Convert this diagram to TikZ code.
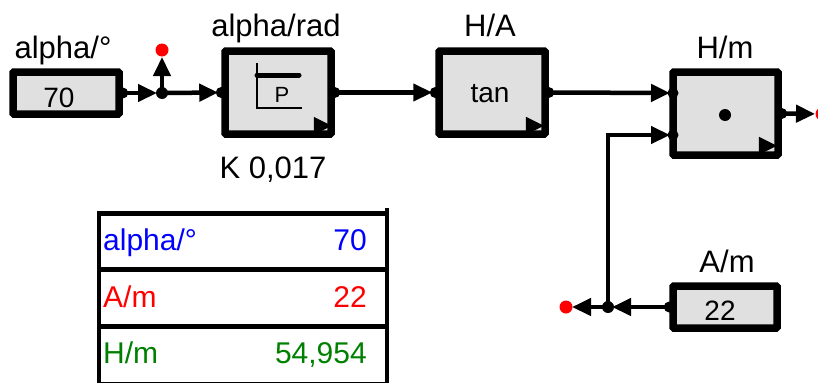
\documentclass[tikz,border=0pt]{standalone}
\usepackage{fontspec}
\setmainfont{Liberation Sans}
\usetikzlibrary{arrows.meta,calc}
\definecolor{boxgray}{RGB}{224,224,224}
\definecolor{tblblue}{RGB}{0,0,255}
\definecolor{tblred}{RGB}{255,0,0}
\definecolor{tblgreen}{RGB}{0,128,0}
\begin{document}
\begin{tikzpicture}[x=1pt,y=-1pt,
  block/.style={draw, line width=7.5pt, fill=boxgray, rectangle, rounded corners=1pt,
    inner sep=0pt, minimum width=106pt},
  constbox/.style={block, minimum height=42pt},
  funcbox/.style={block, minimum height=83pt},
  wire/.style={line width=4.5pt, -{Triangle[length=19pt,width=17pt]}},
  lbl/.style={font=\fontsize{31}{36}\selectfont, anchor=base, inner sep=0pt},
  val/.style={font=\fontsize{28}{34}\selectfont, anchor=base, inner sep=0pt},
  tbl/.style={font=\fontsize{30}{36}\selectfont, inner sep=0pt},
  tblline/.style={line width=5pt},
  port/.style={fill=black},
  opendot/.style={fill=red},
  tipmark/.style={fill=black}]
\useasboundingbox (0,0) rectangle (818,383);

% blocks
\node[constbox] (c1) at (66,93) {};
\node[funcbox] (rad) at (278,92.5) {};
\node[funcbox] (tanb) at (492,92.5) {};
\node[funcbox, minimum width=105pt] (mul) at (725.5,113.5) {};
\node[constbox, minimum width=104pt] (c2) at (725,307) {};

% block labels
\node[lbl] (l1) at (63,58) {alpha/°};
\node[lbl] (l2) at (276,36) {alpha/rad};
\node[lbl] (l3) at (490,36) {H/A};
\node[lbl] (l4) at (725,58) {H/m};
\node[lbl] (l5) at (727,272) {A/m};
\node[lbl] (k) at (273,178) {K 0,017};

% block contents
\node[val] (v1) at (59,107) {70};
\node[val] (v2) at (720,320) {22};
\node[val] (ftan) at (490,102) {tan};
\node[val, font=\fontsize{22}{26}\selectfont] (fp) at (282,102) {P};
\draw[line width=2pt] (257,63) -- (257,108) -- (302,108);
\draw[line width=5pt, line cap=round] (257,75) -- (299,75);
\fill[black] (725,115) circle (6pt);

% output marks in block corners
\fill[tipmark] ($(rad.south east)+(-21,-21)$) -- ++(0,18) -- ++(18,-9) -- cycle;
\fill[tipmark] ($(tanb.south east)+(-23,-21)$) -- ++(0,18) -- ++(18,-9) -- cycle;
\fill[tipmark] ($(mul.south east)+(-23,-22)$) -- ++(0,18) -- ++(18,-9) -- cycle;

% junctions and free ends
\coordinate (j1) at (162,93);
\coordinate (j2) at (608,307);
\coordinate (mulin1) at (673,93);
\coordinate (mulin2) at (673,135);
\coordinate (e1) at (162,50);
\coordinate (e2) at (566,307);
\coordinate (e3) at (822,114);

% connectors
\draw[wire, shorten >=5pt] (c1.east) -- (j1);
\draw[wire, shorten >=7pt] (j1) -- (e1);
\draw[wire, shorten >=3pt] (j1) -- (rad.west);
\draw[wire, shorten >=3pt] (rad.east) -- (tanb.west);
\draw[wire, shorten >=3pt] (tanb.east) -- (mulin1);
\draw[wire, shorten >=3pt] (j2) |- (mulin2);
\draw[wire, shorten >=4pt] (c2.west) -- (j2);
\draw[wire, shorten >=6pt] (j2) -- (e2);
\draw[wire, shorten >=7pt] (mul.east) -- (e3);

% ports
\foreach \p in {c1.east, rad.west, rad.east, tanb.west, tanb.east, mulin1, mulin2, mul.east, c2.west}
  \fill[port] (\p) circle (5.5pt);
\fill[port] (j1) circle (6pt);
\fill[port] (j2) circle (6pt);
\fill[opendot] (e1) circle (6.5pt);
\fill[opendot] (e2) circle (6.5pt);
\fill[opendot] (e3) circle (6.5pt);

% value table
\draw[tblline] (97,213) -- (389,213);
\draw[tblline] (97,269) -- (389,269);
\draw[tblline] (97,326) -- (389,326);
\draw[line width=1.5pt] (99,382.5) -- (387,382.5);
\draw[line width=4.5pt] (99,211) -- (99,383);
\draw[line width=4.5pt] (387,208) -- (387,383);
\node[tbl, anchor=base west, text=tblblue] (t1) at (103,250) {alpha/°};
\node[tbl, anchor=base east, text=tblblue] (t2) at (367,250) {70};
\node[tbl, anchor=base west, text=tblred] (t3) at (103,307) {A/m};
\node[tbl, anchor=base east, text=tblred] (t4) at (367,307) {22};
\node[tbl, anchor=base west, text=tblgreen] (t5) at (103,363) {H/m};
\node[tbl, anchor=base east, text=tblgreen] (t6) at (367,363) {54,954};
\end{tikzpicture}
\end{document}
